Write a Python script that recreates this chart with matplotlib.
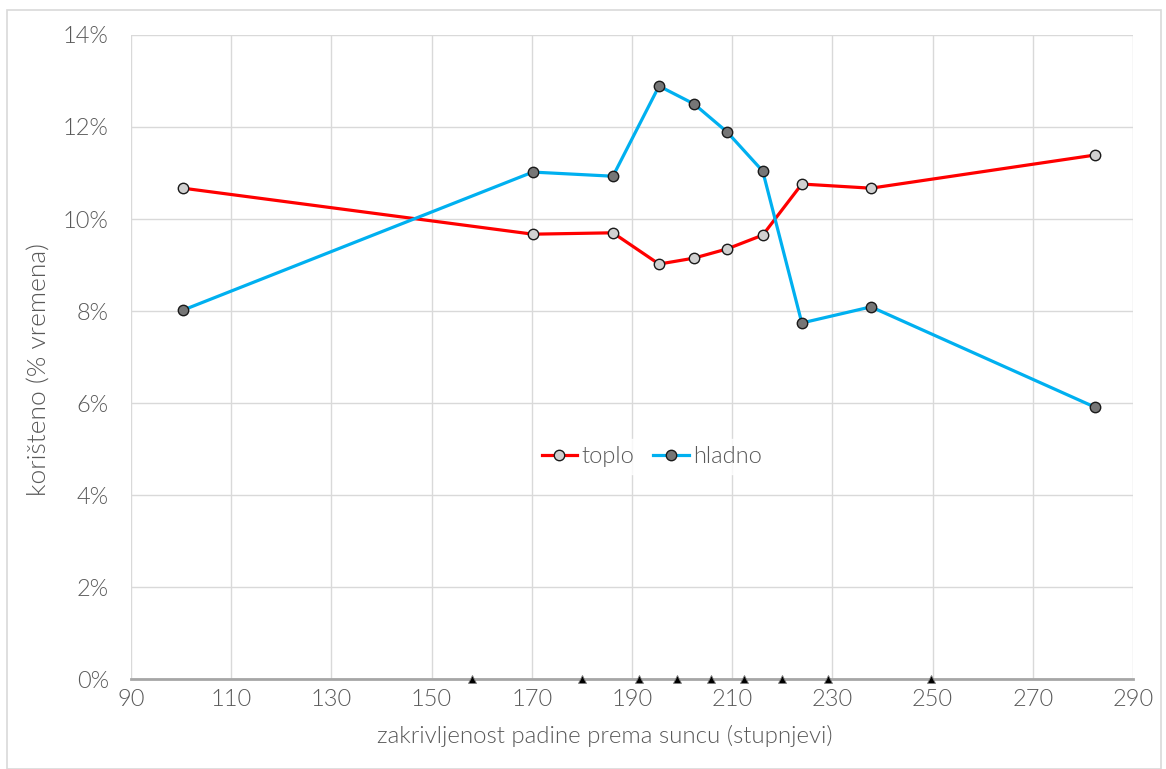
import matplotlib.pyplot as plt
from matplotlib.ticker import FuncFormatter

plt.rcParams['font.family'] = ['Lato', 'DejaVu Sans']
plt.rcParams['font.weight'] = 300

# podaci
x_tocke = [100.4, 170.2, 186.2, 195.4, 202.4, 209.0, 216.1, 223.9, 237.7, 282.4]
toplo = [10.67, 9.67, 9.70, 9.02, 9.15, 9.35, 9.65, 10.76, 10.67, 11.39]
hladno = [8.02, 11.02, 10.93, 12.89, 12.50, 11.89, 11.04, 7.74, 8.09, 5.91]
trokuti = [158.1, 180.0, 191.4, 199.0, 205.8, 212.4, 219.9, 229.1, 249.7]

siva = '#595959'

fig = plt.figure(figsize=(11.66, 7.69), dpi=100)
ax = fig.add_axes([0.1123, 0.1170, 0.8594, 0.8375])

# okvir oko slike
fig.patches.append(plt.Rectangle((0.006, 0.0), 0.99, 0.987, transform=fig.transFigure,
                                 fill=False, edgecolor='#d9d9d9', lw=1.2))

ax.plot(x_tocke, toplo, color='#ff0000', lw=2.3, marker='o', ms=7.5,
        mfc='#d0d0d0', mec='#1a1a1a', mew=1.0, label='toplo', zorder=3)
ax.plot(x_tocke, hladno, color='#00b0f0', lw=2.3, marker='o', ms=7.5,
        mfc='#767676', mec='#1a1a1a', mew=1.0, label='hladno', zorder=3)

ax.plot(trokuti, [0] * len(trokuti), ls='none', marker='^', ms=6,
        mfc='black', mec='#7f7f7f', mew=0.6, clip_on=False, zorder=4)

ax.set_xlim(90, 290)
ax.set_ylim(0, 14)
ax.set_xticks(range(90, 291, 20))
ax.set_yticks(range(0, 15, 2))
ax.yaxis.set_major_formatter(FuncFormatter(lambda v, p: f'{v:.0f}%'))
ax.grid(True, color='#d9d9d9', lw=1.0)
ax.set_axisbelow(True)

for s in ['top', 'right', 'left']:
    ax.spines[s].set_visible(False)
ax.spines['bottom'].set_color('#a6a6a6')
ax.spines['bottom'].set_linewidth(2.0)
ax.spines['bottom'].set_zorder(3.5)

ax.tick_params(length=0, labelsize=17, labelcolor=siva)
ax.tick_params(axis='y', pad=16)
ax.tick_params(axis='x', pad=7)
for lab in ax.get_xticklabels() + ax.get_yticklabels():
    lab.set_fontweight(300)

ax.set_xlabel('zakrivljenost padine prema suncu (stupnjevi)', fontsize=17.3, color=siva,
              fontweight=300)
ax.xaxis.set_label_coords(0.473, -0.089, transform=ax.transAxes)
ax.xaxis.label.set_verticalalignment('center')
ax.set_ylabel('korišteno (% vremena)', fontsize=19, color=siva, fontweight=300)
ax.yaxis.set_label_coords(-0.091, 0.481, transform=ax.transAxes)
ax.yaxis.label.set_verticalalignment('center')

leg = ax.legend(loc='center', bbox_to_anchor=(0.52, 0.345), ncol=2, frameon=True,
                prop={'size': 17, 'weight': 300}, handlelength=1.5, handletextpad=0.2,
                columnspacing=0.8, borderpad=0.3, fancybox=False)
leg.get_frame().set_edgecolor('white')
leg.get_frame().set_facecolor('white')
for t in leg.get_texts():
    t.set_color(siva)

fig.savefig('out.png', dpi=100)
